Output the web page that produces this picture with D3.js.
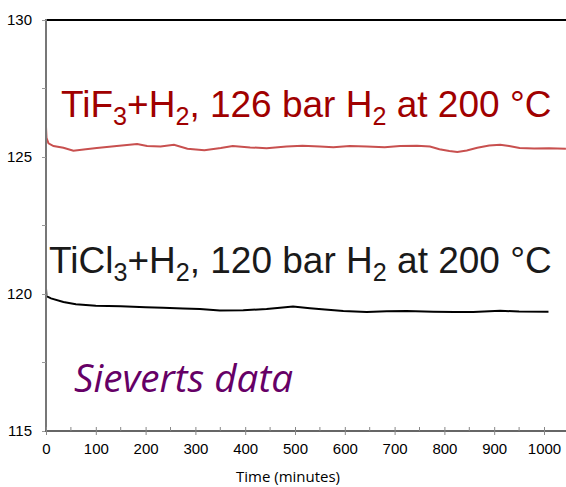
<!DOCTYPE html>
<html>
<head>
<meta charset="utf-8">
<script src="https://cdn.jsdelivr.net/npm/d3@7.9.0/dist/d3.min.js"></script>
<style>
  body { margin: 0; background: #fff; }
  svg { display: block; }
</style>
</head>
<body>
<svg id="chart" width="566" height="487"></svg>
<script>
// Series: [time (minutes), pressure (bar)]
const tif3Series = [
  [0, 126.1], [1, 125.7], [5, 125.5], [15, 125.4], [35, 125.34], [55, 125.23],
  [80, 125.28], [102, 125.33], [142, 125.4], [183, 125.47], [203, 125.4],
  [230, 125.38], [257, 125.45], [284, 125.3], [318, 125.25], [351, 125.33],
  [375, 125.4], [410, 125.35], [443, 125.32], [483, 125.38], [515, 125.41],
  [550, 125.38], [577, 125.36], [610, 125.4], [644, 125.38], [680, 125.36],
  [711, 125.4], [745, 125.41], [771, 125.38], [790, 125.28], [810, 125.22],
  [826, 125.18], [845, 125.24], [866, 125.34], [890, 125.42], [912, 125.45],
  [930, 125.4], [951, 125.33], [980, 125.31], [1010, 125.32], [1044, 125.3]
];

const ticl3Series = [
  [0, 120.2], [1, 119.92], [10, 119.84], [35, 119.71], [60, 119.63],
  [100, 119.57], [150, 119.55], [200, 119.52], [235, 119.5], [275, 119.47],
  [309, 119.45], [349, 119.4], [396, 119.41], [443, 119.45], [470, 119.5],
  [496, 119.54], [530, 119.48], [560, 119.43], [597, 119.38], [644, 119.34],
  [684, 119.37], [724, 119.38], [778, 119.35], [820, 119.34], [858, 119.34],
  [912, 119.39], [950, 119.36], [1009, 119.35]
];

const yTicks = [115, 120, 125, 130];
const yMinorTicks = [117.5, 122.5, 127.5];
const xTicks = [0, 100, 200, 300, 400, 500, 600, 700, 800, 900, 1000];
const xMinorTicks = [50, 150, 250, 350, 450, 550, 650, 750, 850, 950, 1050];

const svg = d3.select("#chart");
const width = +svg.attr("width");
const height = +svg.attr("height");

const x = d3.scaleLinear().domain([0, 1000]).range([46, 544]);
const y = d3.scaleLinear().domain([115, 130]).range([431, 20]);
const plotRight = width;

svg.append("clipPath").attr("id", "plot-clip")
  .append("rect")
  .attr("x", x(0)).attr("y", y(130) - 2)
  .attr("width", plotRight - x(0)).attr("height", y(115) - y(130) + 2);

// Series lines
const line = d3.line().x(d => x(d[0])).y(d => y(d[1]));

const lines = svg.append("g").attr("clip-path", "url(#plot-clip)");
lines.append("path")
  .datum(tif3Series)
  .attr("d", line)
  .attr("fill", "none")
  .attr("stroke", "#c8504f")
  .attr("stroke-width", 2);

lines.append("path")
  .datum(ticl3Series)
  .attr("d", line)
  .attr("fill", "none")
  .attr("stroke", "#000")
  .attr("stroke-width", 2);

// Top border
svg.append("line")
  .attr("x1", x(0)).attr("x2", plotRight)
  .attr("y1", y(130)).attr("y2", y(130))
  .attr("stroke", "#000").attr("stroke-width", 2);

// Y axis
const yAxis = d3.axisLeft(y).tickValues(yTicks).tickSize(4).tickPadding(10);
const yG = svg.append("g")
  .attr("transform", `translate(${x(0)},0)`)
  .call(yAxis);
yG.select(".domain").attr("stroke", "#777").attr("stroke-width", 2).attr("d", `M0,${y(130) - 1}V${y(115)}`);
yG.selectAll(".tick line").attr("stroke", "#999");
yG.selectAll(".tick text")
  .attr("font-family", "Liberation Sans, Arial, sans-serif")
  .attr("font-size", 15)
  .attr("fill", "#000");

svg.append("g").selectAll("line")
  .data(yMinorTicks)
  .join("line")
  .attr("x1", x(0) - 4).attr("x2", x(0))
  .attr("y1", d => y(d)).attr("y2", d => y(d))
  .attr("stroke", "#999");

// X axis
const xAxis = d3.axisBottom(x).tickValues(xTicks).tickFormat(d3.format("d")).tickSize(4).tickPadding(8);
const xG = svg.append("g")
  .attr("transform", `translate(0,${y(115)})`)
  .call(xAxis);
xG.select(".domain").attr("stroke", "#666").attr("stroke-width", 2).attr("d", `M${x(0) - 1},0H${plotRight}`);
xG.selectAll(".tick line").attr("stroke", "#888").attr("y1", -4);
xG.selectAll(".tick text")
  .attr("font-family", "Liberation Sans, Arial, sans-serif")
  .attr("font-size", 15)
  .attr("fill", "#000");

svg.append("g").selectAll("line")
  .data(xMinorTicks.filter(d => x(d) <= plotRight))
  .join("line")
  .attr("x1", d => x(d)).attr("x2", d => x(d))
  .attr("y1", y(115) - 4).attr("y2", y(115))
  .attr("stroke", "#888");

svg.append("text")
  .attr("x", 288).attr("y", 482)
  .attr("text-anchor", "middle")
  .attr("font-family", "Open Sans, sans-serif")
  .attr("font-size", 15)
  .attr("fill", "#000")
  .text("Time (minutes)");

// Annotations with subscripts
function chemLabel(parts, xPos, yPos, size, color) {
  const t = svg.append("text")
    .attr("x", xPos).attr("y", yPos)
    .attr("font-family", "Liberation Sans, Arial, sans-serif")
    .attr("font-size", size)
    .attr("fill", color);
  parts.forEach(p => {
    if (p.sub) {
      t.append("tspan").attr("font-size", size * 0.68).attr("dy", size * 0.22).text(p.sub);
    } else {
      t.append("tspan").attr("dy", p.after ? -size * 0.22 : 0).text(p.text);
    }
  });
  return t;
}

chemLabel([
  { text: "TiF" }, { sub: "3" }, { text: "+H", after: true }, { sub: "2" },
  { text: ", 126 bar H", after: true }, { sub: "2" }, { text: " at 200 °C", after: true }
], 61, 117, 37, "#a00000");

chemLabel([
  { text: "TiCl" }, { sub: "3" }, { text: "+H", after: true }, { sub: "2" },
  { text: ", 120 bar H", after: true }, { sub: "2" }, { text: " at 200 °C", after: true }
], 49, 273, 37, "#1a1a1a");

svg.append("text")
  .attr("x", 74).attr("y", 392)
  .attr("font-family", "Open Sans, sans-serif")
  .attr("font-style", "italic")
  .attr("font-size", 38)
  .attr("fill", "#660066")
  .attr("textLength", 219)
  .attr("lengthAdjust", "spacingAndGlyphs")
  .text("Sieverts data");
</script>
</body>
</html>
